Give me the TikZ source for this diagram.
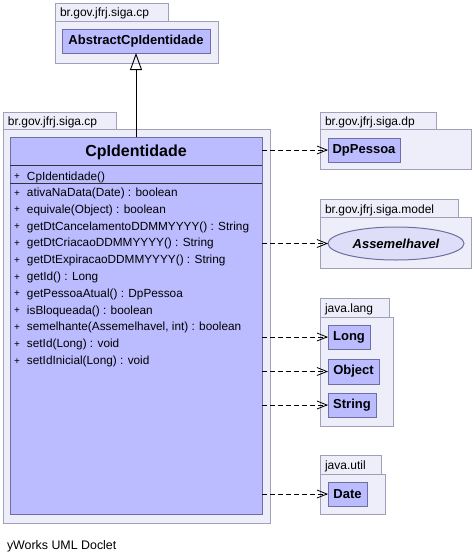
\documentclass[tikz,border=0pt]{standalone}
\usepackage{fontspec}
\setmainfont{Liberation Sans}
\usetikzlibrary{arrows.meta,shapes.geometric}
\definecolor{pkgfill}{RGB}{238,238,250}
\definecolor{pkgline}{RGB}{160,160,185}
\definecolor{clsfill}{RGB}{187,187,255}
\definecolor{clsline}{RGB}{110,110,160}
\definecolor{ellfill}{RGB}{222,222,248}
\tikzset{
  every node/.style={inner sep=0pt, outer sep=0pt},
  pkgbox/.style={draw=pkgline, fill=pkgfill, line width=1pt, anchor=north west},
  clsbox/.style={draw=clsline, fill=clsfill, line width=1pt, anchor=north west, font=\fontsize{13}{15}\selectfont\bfseries},
  pkglabel/.style={anchor=base west, font=\fontsize{12}{14}\selectfont},
  mtext/.style={anchor=base west, font=\fontsize{11.8}{14}\selectfont},
  plus/.style={anchor=base west, font=\fontsize{10}{12}\selectfont},
  dep/.style={dash pattern=on 5pt off 3pt, line width=0.8pt, -{Straight Barb[length=10pt,width=8pt,line width=0.8pt]}},
  inh/.style={line width=0.9pt, -{Triangle[open,length=17pt,width=12pt,line width=0.9pt]}}
}
\begin{document}
\begin{tikzpicture}[x=1pt,y=-1pt]
\path[use as bounding box, fill=white] (0,0) rectangle (474,560);
% top package
\node[pkgbox, minimum width=113pt, minimum height=18pt] (p1tab) at (55,3) {};
\node[pkgbox, minimum width=163pt, minimum height=42pt] (p1) at (55,21) {};
\node[pkglabel] (p1lab) at (60,16.5) {br.gov.jfrj.siga.cp};
\node[clsbox, minimum width=148pt, minimum height=24pt] (abs) at (62,29) {AbstractCpIdentidade};
% main package
\node[pkgbox, minimum width=113pt, minimum height=17pt] (p2tab) at (3,112) {};
\node[pkgbox, minimum width=267pt, minimum height=394pt] (p2) at (3,129) {};
\node[pkglabel] (p2lab) at (8,125) {br.gov.jfrj.siga.cp};
\node[clsbox, minimum width=252pt, minimum height=377pt] (cp) at (10,137) {};
\node[font=\fontsize{16}{18}\selectfont\bfseries] (cptitle) at (136,152) {CpIdentidade};
\draw[line width=1pt, black!80] (10,165) -- (262,165);
\draw[line width=1pt, black!80] (10,183) -- (262,183);
\node[plus] (c0p) at (14,179.5) {+};
\node[mtext] (c0) at (27,180) {CpIdentidade()};
\foreach \t [count=\i from 0] in {
  ativaNaData(Date) : boolean,
  equivale(Object) : boolean,
  getDtCancelamentoDDMMYYYY() : String,
  getDtCriacaoDDMMYYYY() : String,
  getDtExpiracaoDDMMYYYY() : String,
  getId() : Long,
  getPessoaAtual() : DpPessoa,
  isBloqueada() : boolean,
  {semelhante(Assemelhavel, int) : boolean},
  setId(Long) : void,
  setIdInicial(Long) : void}{
  \node[plus] (m\i p) at (14,{196+16.8*\i}) {+};
  \node[mtext] (m\i) at (27,{196.5+16.8*\i}) {\t};
}
% dp package
\node[pkgbox, minimum width=116pt, minimum height=17pt] (p3tab) at (320,112) {};
\node[pkgbox, minimum width=151pt, minimum height=40pt] (p3) at (320,129) {};
\node[pkglabel] (p3lab) at (325,125) {br.gov.jfrj.siga.dp};
\node[clsbox, minimum width=72pt, minimum height=24pt] (dp) at (328,138) {DpPessoa};
% model package
\node[pkgbox, minimum width=138pt, minimum height=18pt] (p4tab) at (320,199) {};
\node[pkgbox, minimum width=151pt, minimum height=51pt] (p4) at (320,217) {};
\node[pkglabel] (p4lab) at (325,213) {br.gov.jfrj.siga.model};
\node[ellipse, draw=clsline, fill=ellfill, line width=1pt, minimum width=136pt, minimum height=33pt, font=\fontsize{13}{15}\selectfont\bfseries\itshape] (ass) at (396,243.5) {Assemelhavel};
% java.lang
\node[pkgbox, minimum width=69pt, minimum height=19pt] (p5tab) at (320,298) {};
\node[pkgbox, minimum width=73pt, minimum height=109pt] (p5) at (320,317) {};
\node[pkglabel] (p5lab) at (325,312.5) {java.lang};
\node[clsbox, minimum width=42pt, minimum height=24pt] (long) at (328,325) {Long};
\node[clsbox, minimum width=51pt, minimum height=25pt] (obj) at (328,359) {Object};
\node[clsbox, minimum width=48pt, minimum height=24pt] (str) at (328,393) {String};
% java.util
\node[pkgbox, minimum width=61pt, minimum height=19pt] (p6tab) at (320,455) {};
\node[pkgbox, minimum width=65pt, minimum height=40pt] (p6) at (320,474) {};
\node[pkglabel] (p6lab) at (325,469.5) {java.util};
\node[clsbox, minimum width=39pt, minimum height=24pt] (date) at (328,482) {Date};
% connectors
\draw[inh] (cp.north) -- (abs.south);
\draw[dep] (cp.east |- dp.west) -- (dp.west);
\draw[dep] (cp.east |- ass.west) -- (ass.west);
\draw[dep] (cp.east |- long.west) -- (long.west);
\draw[dep] (cp.east |- obj.west) -- (obj.west);
\draw[dep] (cp.east |- str.west) -- (str.west);
\draw[dep] (cp.east |- date.west) -- (date.west);
% footer
\node[anchor=base west, font=\fontsize{12.4}{14}\selectfont] (foot) at (7,549) {yWorks UML Doclet};
\end{tikzpicture}
\end{document}
